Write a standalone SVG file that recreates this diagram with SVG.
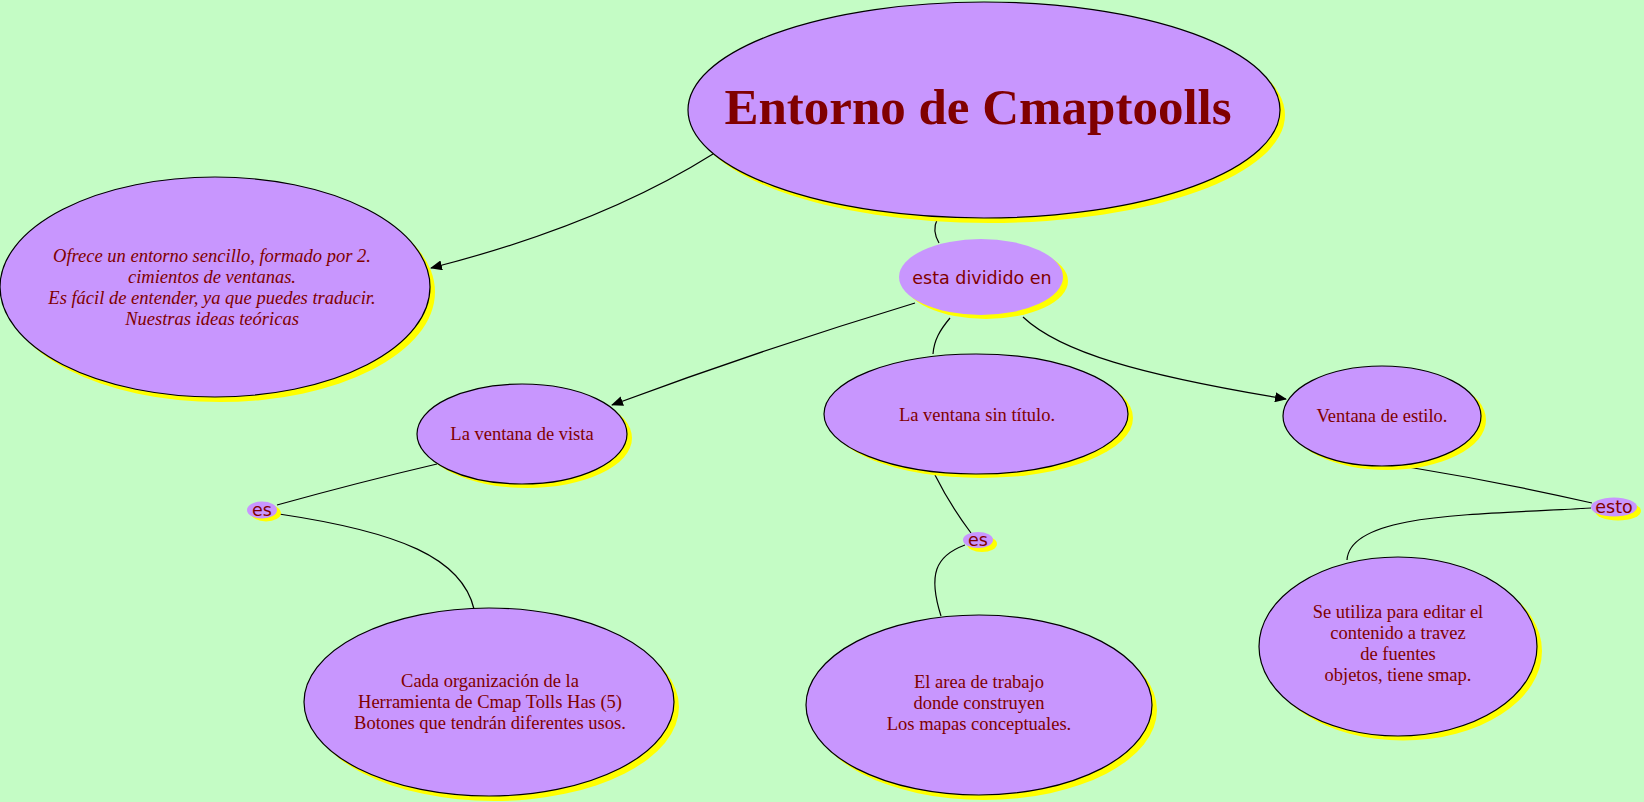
<svg xmlns="http://www.w3.org/2000/svg" width="1644" height="802" viewBox="0 0 1644 802">
<defs>
<marker id="arr" markerWidth="12" markerHeight="10" refX="11" refY="5" orient="auto" markerUnits="userSpaceOnUse">
<path d="M0,0 L12,5 L0,10 Z" fill="#000"/>
</marker>
<style>
.sh{fill:#ffff00;}
.nd{fill:#c896fe;stroke:#000;stroke-width:1.2;}
.tx{font-family:"Liberation Serif","DejaVu Serif",serif;font-size:18.5px;fill:#800000;text-anchor:middle;}
.it{font-style:italic;}
.lk{font-family:"DejaVu Sans","Liberation Sans",sans-serif;font-size:17.5px;fill:#800000;text-anchor:middle;}
.lsh{fill:#ffff00;}
.lnd{fill:#c896fe;}
.c{fill:none;stroke:#000;stroke-width:1.2;}
</style>
</defs>
<rect width="1644" height="802" fill="#c4fcc5"/>
<g id="connectors">
<path class="c" d="M713,154 Q600,225 431,268" marker-end="url(#arr)"/>
<path class="c" d="M937,220 C933,228 935,236 939,243"/>
<path class="c" d="M915,303 Q760,350 612,405" marker-end="url(#arr)"/>
<path class="c" d="M950,318 C940,330 934,340 933,354"/>
<path class="c" d="M1023,317 C1060,352 1140,375 1286,399" marker-end="url(#arr)"/>
<path class="c" d="M437,464 Q360,482 277,505"/>
<path class="c" d="M279,514 C400,532 462,558 474,609"/>
<path class="c" d="M935,475 Q950,505 971,533"/>
<path class="c" d="M965,545 C935,556 928,575 941,616"/>
<path class="c" d="M1408,467 Q1500,482 1592,503"/>
<path class="c" d="M1591,508 C1480,515 1350,512 1347,560"/>
</g>
<g id="n-main">
<ellipse class="sh" cx="989" cy="115" rx="296" ry="108"/>
<ellipse class="nd" cx="984" cy="110" rx="296" ry="108"/>
<text x="978" y="124" font-family="Liberation Serif, DejaVu Serif, serif" font-weight="bold" font-size="51" fill="#800000" text-anchor="middle">Entorno de Cmaptoolls</text>
</g>
<g id="n-ofrece">
<ellipse class="sh" cx="220" cy="292" rx="215" ry="110"/>
<ellipse class="nd" cx="215" cy="287" rx="215" ry="110"/>
<text class="tx it" x="212" y="262">Ofrece un entorno sencillo, formado por 2.</text>
<text class="tx it" x="212" y="283">cimientos de ventanas.</text>
<text class="tx it" x="212" y="304">Es fácil de entender, ya que puedes traducir.</text>
<text class="tx it" x="212" y="325">Nuestras ideas teóricas</text>
</g>
<g id="l-dividido">
<ellipse class="lsh" cx="986" cy="281" rx="82" ry="38"/>
<ellipse class="lnd" cx="981" cy="277" rx="82" ry="38"/>
<text class="lk" x="982" y="284">esta dividido en</text>
</g>
<g id="n-vista">
<ellipse class="sh" cx="527" cy="438" rx="105" ry="50"/>
<ellipse class="nd" cx="522" cy="434" rx="105" ry="50"/>
<text class="tx" x="522" y="440">La ventana de vista</text>
</g>
<g id="n-sintitulo">
<ellipse class="sh" cx="981" cy="418" rx="152" ry="60"/>
<ellipse class="nd" cx="976" cy="414" rx="152" ry="60"/>
<text class="tx" x="977" y="421">La ventana sin título.</text>
</g>
<g id="n-estilo">
<ellipse class="sh" cx="1387" cy="420" rx="99" ry="50"/>
<ellipse class="nd" cx="1382" cy="416" rx="99" ry="50"/>
<text class="tx" x="1382" y="422">Ventana de estilo.</text>
</g>
<g id="l-es1">
<ellipse class="lsh" cx="266" cy="513" rx="15" ry="8.5"/>
<ellipse class="lnd" cx="262" cy="510" rx="15" ry="8.5"/>
<text class="lk" x="262" y="516">es</text>
</g>
<g id="l-es2">
<ellipse class="lsh" cx="982" cy="544" rx="15" ry="8"/>
<ellipse class="lnd" cx="978" cy="540" rx="15" ry="8"/>
<text class="lk" x="978" y="546">es</text>
</g>
<g id="l-esto">
<ellipse class="lsh" cx="1618" cy="511" rx="23" ry="9.5"/>
<ellipse class="lnd" cx="1614" cy="507" rx="23" ry="9.5"/>
<text class="lk" x="1614" y="513">esto</text>
</g>
<g id="n-cada">
<ellipse class="sh" cx="494" cy="707" rx="185" ry="94"/>
<ellipse class="nd" cx="489" cy="702" rx="185" ry="94"/>
<text class="tx" x="490" y="687">Cada organización de la</text>
<text class="tx" x="490" y="708">Herramienta de Cmap Tolls Has (5)</text>
<text class="tx" x="490" y="729">Botones que tendrán diferentes usos.</text>
</g>
<g id="n-area">
<ellipse class="sh" cx="984" cy="710" rx="173" ry="90"/>
<ellipse class="nd" cx="979" cy="705" rx="173" ry="90"/>
<text class="tx" x="979" y="688">El area de trabajo</text>
<text class="tx" x="979" y="709">donde construyen</text>
<text class="tx" x="979" y="730">Los mapas conceptuales.</text>
</g>
<g id="n-utiliza">
<ellipse class="sh" cx="1403" cy="651" rx="139" ry="89.5"/>
<ellipse class="nd" cx="1398" cy="646.5" rx="139" ry="89.5"/>
<text class="tx" x="1398" y="618">Se utiliza para editar el</text>
<text class="tx" x="1398" y="639">contenido a travez</text>
<text class="tx" x="1398" y="660">de fuentes</text>
<text class="tx" x="1398" y="681">objetos, tiene smap.</text>
</g>
</svg>
